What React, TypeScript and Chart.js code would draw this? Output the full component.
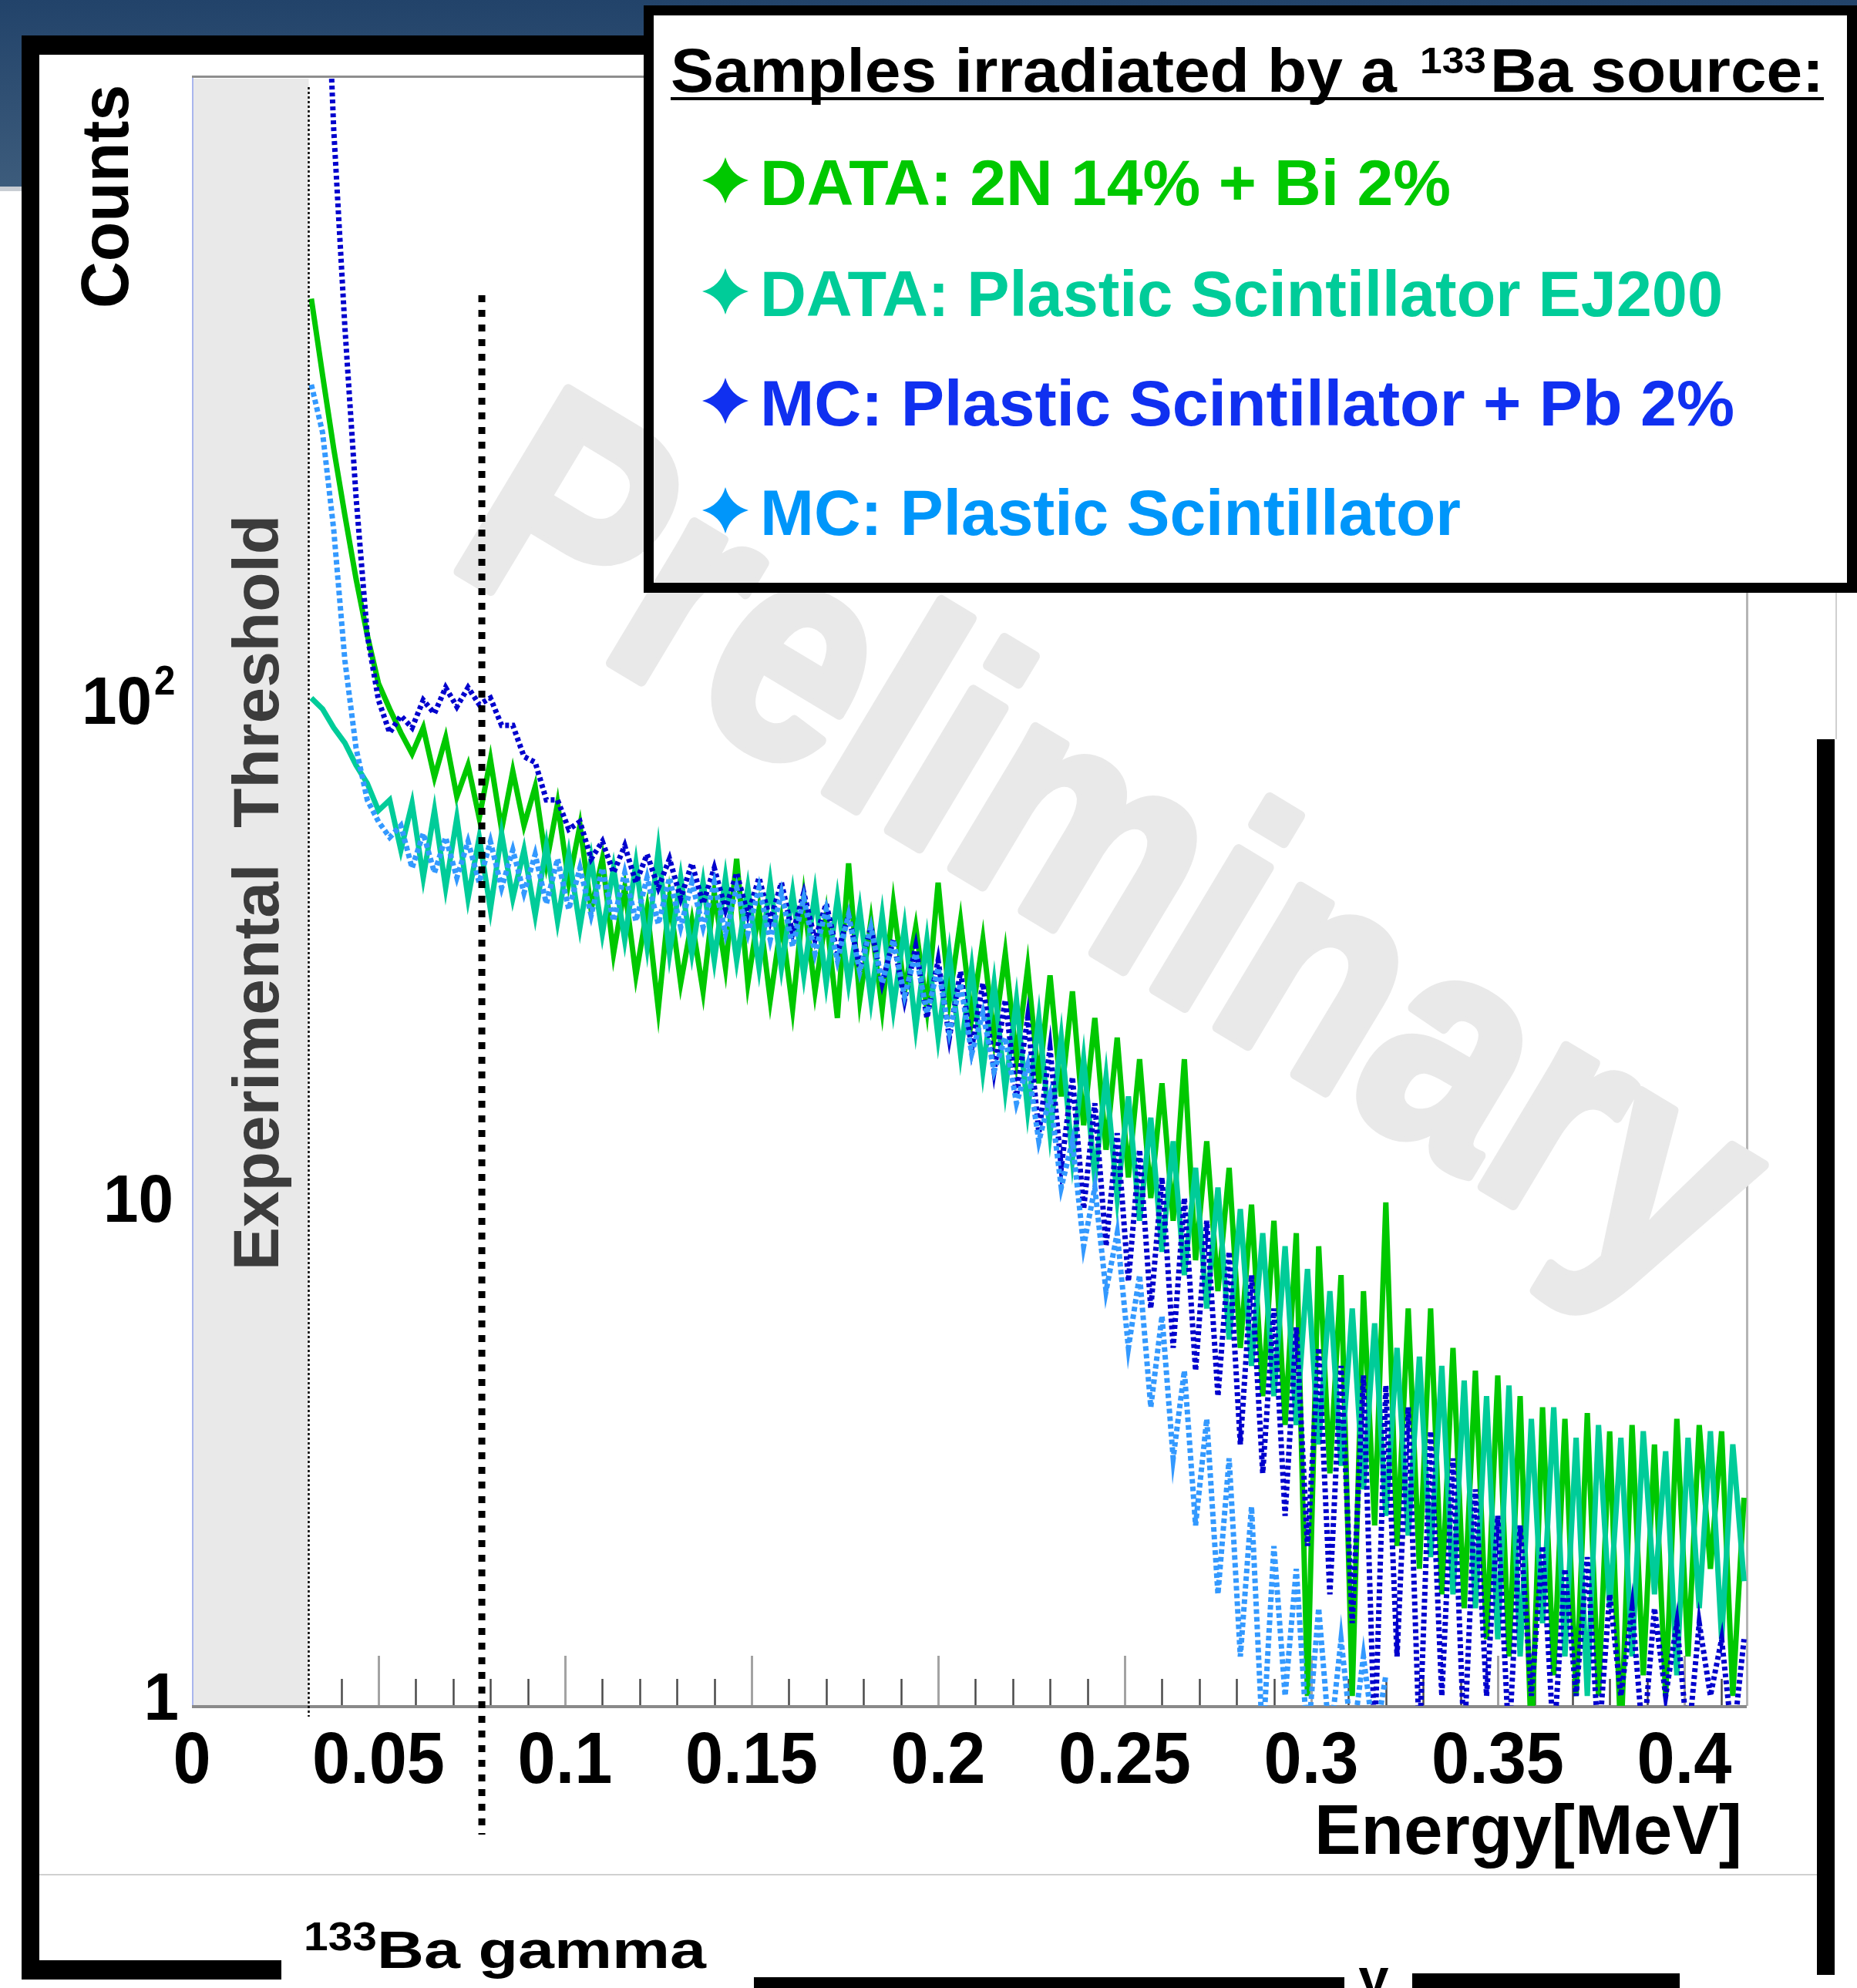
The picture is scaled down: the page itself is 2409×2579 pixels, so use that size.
import React, { useEffect, useRef } from 'react';
import { Chart, registerables } from 'chart.js';

Chart.register(...registerables);

const W = 2409;
const H = 2579;
const FONT = '"Liberation Sans", Arial, Helvetica, sans-serif';

// Energy binning of the histograms (MeV)
const E_START = 0.032;
const E_STEP = 0.003;

// DATA: 2N 14% + Bi 2%
const DATA_2N_BI = [
  640, 450, 320, 235, 175, 135, 108, 96, 86, 78,
  88, 70, 84, 64, 74, 58, 76, 55, 72, 56,
  67, 47, 62, 43, 56, 38, 48, 31, 42, 28,
  38, 24, 40, 27, 36, 26, 41, 29, 48, 27,
  38, 25, 36, 24, 40, 26, 37, 23, 47, 25,
  36, 24, 39, 26, 35, 24, 43, 25, 36, 23,
  33, 21, 31, 19, 29, 17, 28, 16, 26, 14,
  23, 12.5, 21, 11, 19, 10, 17, 9, 19, 7.5,
  13, 6.5, 11.5, 5, 9.7, 4, 9, 3.5, 8.5, 1,
  8, 2.8, 7, 1, 6.5, 2.2, 9.8, 2, 6, 1.8,
  6, 1.6, 5, 1.5, 4.5, 1.3, 4.4, 1.2, 4, 0.8,
  3.8, 1.1, 3.6, 1, 3.7, 1, 3.4, 0.8, 3.5, 1.1,
  3.2, 1, 3.6, 1.2, 3.5, 1.8, 3.4, 1, 2.5,
];

// DATA: Plastic Scintillator EJ200
const DATA_EJ200 = [
  101, 96, 88, 82, 74, 68, 60, 63, 50, 62,
  44, 60, 42, 58, 40, 53, 38, 54, 40, 50,
  37, 51, 36, 49, 35, 48, 34, 46, 33, 47,
  32, 50, 31, 44, 31, 43, 30, 44, 30, 42,
  29, 43, 29, 41, 28, 41, 27, 40, 27, 38,
  25, 37, 24, 35, 22, 33, 21, 31, 19.5, 29,
  18, 27, 16.5, 25, 15, 23, 13.5, 21, 12, 19,
  11, 17.5, 10, 16, 9, 14.5, 7.8, 13, 7, 11.5,
  6, 10.5, 5.2, 9.5, 4.6, 8.5, 4, 8, 3.5, 7.2,
  3.2, 6.5, 2.9, 6, 2.6, 5.6, 2.3, 5, 2.1, 4.8,
  1.9, 4.6, 1.6, 4.3, 1.5, 4, 1.3, 4.2, 1.2, 3.6,
  1.4, 3.8, 1.2, 3.3, 1, 3.5, 1.5, 3.3, 1.2, 3.4,
  1.6, 3.1, 1.1, 3.3, 1.5, 3.4, 1.3, 3.2, 1.7,
];

// MC: Plastic Scintillator + Pb 2%
const MC_PB = [
  5000, 5000, 1400, 560, 255, 135, 100, 86, 93, 88,
  100, 94, 106, 97, 106, 98, 101, 89, 89, 77,
  75, 63, 63, 55, 57, 48, 52, 45, 51, 43,
  49, 42, 48, 40, 47, 39, 46, 38, 45, 37,
  44, 36, 43, 34, 41, 33, 39, 31, 37, 29,
  35, 27, 33, 25, 32, 23, 30, 21, 28.5, 20,
  27, 18, 25, 16, 23, 13.5, 20, 11.5, 17.5, 9.5,
  15.5, 8, 13.5, 6.8, 12.5, 6, 11, 5, 10, 4.5,
  9, 4, 7.8, 3.2, 7, 2.8, 6, 2.3, 5.5, 2,
  5, 1.6, 4.6, 1.4, 4.4, 0.8, 4.2, 1.2, 3.8, 0.8,
  3.4, 1, 3, 0.8, 2.6, 1, 2.3, 0.8, 2.2, 1,
  2, 0.8, 1.8, 1, 1.9, 0.8, 1.6, 1, 1.5, 0.8,
  1.5, 1, 1.4, 0.8, 1.4, 1, 1.3, 0.8, 1.3,
];

// MC: Plastic Scintillator
const MC_PLASTIC = [
  430, 345, 220, 120, 80, 63, 57, 53, 56, 46,
  54, 45, 53, 44, 52, 43, 52, 42, 50, 41,
  49, 39, 48, 38, 46, 37, 46, 36, 45, 36,
  44, 35.5, 44, 35, 43, 35, 43, 34, 42, 34,
  42, 33, 41, 32, 40, 31, 38, 30, 37, 28.5,
  35, 27, 33, 25.5, 31, 23.5, 29, 21.5, 27, 19.5,
  23.5, 18, 21, 15.5, 18.5, 13, 16, 10.5, 13, 8,
  10.5, 6.5, 8.5, 5, 7, 3.8, 5.8, 3, 4.5, 2.2,
  3.6, 1.6, 3, 1.2, 2.4, 0.8, 2, 1, 1.8, 0.8,
  1.5, 0.8, 1.3, 0.8, 1.2, 0.8, 1.1,
];

const X_TICKS = [0, 0.05, 0.1, 0.15, 0.2, 0.25, 0.3, 0.35, 0.4];
const X_TICK_LABELS = ['0', '0.05', '0.1', '0.15', '0.2', '0.25', '0.3', '0.35', '0.4'];
const Y_TICKS = [1, 10, 100];
const Y_TICK_LABELS = [['1', ''], ['10', ''], ['10', '2']];
const THRESHOLD_E = 0.0313;
const BA_LINE_E = 0.0777;

const SERIES = [
  { label: 'DATA: 2N 14% + Bi 2%', values: DATA_2N_BI, line: 'rgb(0,200,0)', text: 'rgb(0,200,0)', dash: [] as number[], width: 7, order: 4 },
  { label: 'DATA: Plastic Scintillator EJ200', values: DATA_EJ200, line: 'rgb(0,204,153)', text: 'rgb(0,204,153)', dash: [] as number[], width: 7, order: 3 },
  { label: 'MC: Plastic Scintillator + Pb 2%', values: MC_PB, line: 'rgb(0,0,205)', text: 'rgb(16,48,240)', dash: [5, 4], width: 7, order: 2 },
  { label: 'MC: Plastic Scintillator', values: MC_PLASTIC, line: 'rgb(51,153,255)', text: 'rgb(0,150,250)', dash: [6, 4], width: 7, order: 1 },
];

function drawText(ctx: any, s: string, x: number, y: number, px: number, color: string, align: string = 'left', opt: any = {}) {
  ctx.save();
  ctx.font = `bold ${px}px ${FONT}`;
  ctx.fillStyle = color;
  ctx.textBaseline = 'alphabetic';
  ctx.textAlign = align;
  const w = ctx.measureText(s).width;
  ctx.translate(x, y);
  if (opt.angle) ctx.rotate(opt.angle);
  let sx = opt.sx || 1;
  if (opt.w) sx = opt.w / w;
  ctx.scale(sx, 1);
  ctx.fillText(s, 0, 0);
  ctx.restore();
}

function star(ctx: any, cx: number, cy: number, r: number, color: string) {
  const k = 0.22;
  ctx.save();
  ctx.fillStyle = color;
  ctx.beginPath();
  ctx.moveTo(cx, cy - r);
  ctx.quadraticCurveTo(cx + r * k, cy - r * k, cx + r, cy);
  ctx.quadraticCurveTo(cx + r * k, cy + r * k, cx, cy + r);
  ctx.quadraticCurveTo(cx - r * k, cy + r * k, cx - r, cy);
  ctx.quadraticCurveTo(cx - r * k, cy - r * k, cx, cy - r);
  ctx.closePath();
  ctx.fill();
  ctx.restore();
}

const decor = {
  id: 'decor',
  beforeDraw(chart: any) {
    const ctx = chart.ctx;
    ctx.save();
    ctx.fillStyle = '#ffffff';
    ctx.fillRect(0, 0, W, H);
    const g = ctx.createLinearGradient(0, 0, 0, 245);
    g.addColorStop(0, '#22436a');
    g.addColorStop(1, '#3d5c7c');
    ctx.fillStyle = g;
    ctx.fillRect(0, 0, W, 46);
    ctx.fillRect(0, 0, 28, 242);
    ctx.fillStyle = '#c9cdd3';
    ctx.fillRect(0, 242, 28, 6);
    ctx.fillStyle = '#000';
    ctx.fillRect(28, 46, 808, 25);
    ctx.fillRect(28, 46, 23, 2522);
    ctx.fillRect(28, 2543, 337, 25);
    ctx.fillRect(978, 2565, 766, 14);
    ctx.fillRect(1832, 2560, 347, 19);
    ctx.fillRect(2357, 959, 23, 1603);
    ctx.fillStyle = '#d0d0d0';
    ctx.fillRect(51, 2431, 2306, 2);
    ctx.fillRect(2381, 769, 2, 190);
    ctx.restore();
    drawText(ctx, '\u03b3', 1782, 2590, 70, '#000', 'center');
  },
  beforeDatasetsDraw(chart: any) {
    const ctx = chart.ctx;
    const { left, right, top, bottom } = chart.chartArea;
    const xs = chart.scales.x;
    ctx.save();
    for (let k = 1; k <= 41; k++) {
      const px = Math.round(xs.getPixelForValue(k / 100)) + 0.5;
      const major = k % 5 === 0;
      ctx.strokeStyle = major ? '#a3a3a3' : '#4a4a4a';
      ctx.lineWidth = major ? 3 : 2.5;
      ctx.beginPath();
      ctx.moveTo(px, bottom);
      ctx.lineTo(px, bottom - (major ? 65 : 35));
      ctx.stroke();
    }
    const thx = xs.getPixelForValue(THRESHOLD_E);
    ctx.fillStyle = '#e9e9e9';
    ctx.fillRect(left, top + 3, thx - left, bottom - top - 3);
    ctx.fillStyle = '#a9b6ee';
    ctx.fillRect(left, top, 2, bottom - top);
    ctx.fillStyle = '#8e8e8e';
    ctx.fillRect(left, top - 1, right - left, 3);
    ctx.fillStyle = '#b5b5b5';
    ctx.fillRect(right - 1, top, 3, bottom - top);
    ctx.fillStyle = '#8a8a8a';
    ctx.fillRect(left, bottom - 1, right - left, 4);
    ctx.fillStyle = '#ffffff';
    ctx.fillRect(835, 7, W - 835, 762);
    // watermark
    ctx.save();
    ctx.translate(575, 729);
    ctx.rotate((31 * Math.PI) / 180);
    ctx.scale(0.86, 1);
    ctx.font = `bold 400px ${FONT}`;
    ctx.fillStyle = '#e9e9e9';
    ctx.strokeStyle = '#e9e9e9';
    ctx.lineWidth = 14;
    ctx.lineJoin = 'round';
    ctx.textBaseline = 'alphabetic';
    ctx.strokeText('Preliminary', 0, 0);
    ctx.fillText('Preliminary', 0, 0);
    ctx.restore();
    ctx.restore();
  },
  afterDatasetsDraw(chart: any) {
    const ctx = chart.ctx;
    const { top, bottom } = chart.chartArea;
    const xs = chart.scales.x;
    const ys = chart.scales.y;
    ctx.save();
    const thx = Math.round(xs.getPixelForValue(THRESHOLD_E)) + 0.5;
    ctx.strokeStyle = '#000';
    ctx.lineWidth = 2.5;
    ctx.setLineDash([3, 3]);
    ctx.beginPath();
    ctx.moveTo(thx, top + 14);
    ctx.lineTo(thx, bottom + 14);
    ctx.stroke();
    const bx = xs.getPixelForValue(BA_LINE_E);
    ctx.lineWidth = 9;
    ctx.setLineDash([9, 10]);
    ctx.beginPath();
    ctx.moveTo(bx, 383);
    ctx.lineTo(bx, 2380);
    ctx.stroke();
    ctx.setLineDash([]);
    ctx.restore();

    X_TICKS.forEach((v, i) => {
      drawText(ctx, X_TICK_LABELS[i], xs.getPixelForValue(v), 2313, 95, '#000', 'center', { sx: 0.93 });
    });
    Y_TICKS.forEach((v, i) => {
      const py = ys.getPixelForValue(v) + 31;
      const [main, sup] = Y_TICK_LABELS[i];
      if (sup) {
        drawText(ctx, main, 197, py, 88, '#000', 'right', { sx: 0.93 });
        drawText(ctx, sup, 200, py - 38, 53, '#000', 'left', { sx: 0.93 });
      } else {
        drawText(ctx, main, main.length === 1 ? 232 : 225, py, 88, '#000', 'right', { sx: 0.93 });
      }
    });

    drawText(ctx, 'Energy[MeV]', 2260, 2405, 91, '#000', 'right', { w: 555 });
    drawText(ctx, 'Counts', 166, 255, 88, '#000', 'center', { angle: -Math.PI / 2, w: 290 });
    drawText(ctx, 'Experimental  Threshold', 361, 1158, 84, '#3c3c3c', 'center', { angle: -Math.PI / 2 });

    ctx.save();
    ctx.strokeStyle = '#000';
    ctx.lineWidth = 13;
    ctx.strokeRect(841.5, 13.5, W - 848, 749);
    ctx.restore();
    drawText(ctx, 'Samples irradiated by a', 870, 119, 80, '#000', 'left', { w: 942 });
    drawText(ctx, '133', 1842, 95, 49, '#000', 'left', { w: 86 });
    drawText(ctx, 'Ba source:', 1933, 119, 80, '#000', 'left', { w: 433 });
    ctx.fillStyle = '#000';
    ctx.fillRect(870, 126, 1496, 4);
    const baselines = [266, 410, 552, 694];
    const widths = [896, 1249, 1264, 909];
    SERIES.forEach((s, i) => {
      star(ctx, 941, baselines[i] - 32, 30, s.text);
      drawText(ctx, s.label, 986, baselines[i], 84, s.text, 'left', { w: widths[i] });
    });

    drawText(ctx, '133', 394, 2530, 51, '#000', 'left', { w: 95 });
    drawText(ctx, 'Ba gamma', 489, 2553, 68, '#000', 'left', { w: 427 });
  },
};

export default function App() {
  const ref = useRef<HTMLCanvasElement | null>(null);
  useEffect(() => {
    if (!ref.current) return;
    const chart = new Chart(ref.current, {
      type: 'line',
      data: {
        datasets: SERIES.map((s) => ({
          label: s.label,
          data: s.values.map((v, i) => ({ x: E_START + E_STEP * i, y: v })),
          borderColor: s.line,
          backgroundColor: s.line,
          borderWidth: s.width,
          borderDash: s.dash,
          borderJoinStyle: 'miter',
          pointRadius: 0,
          tension: 0,
          fill: false,
          order: s.order,
        })),
      },
      options: {
        responsive: false,
        animation: false,
        devicePixelRatio: 1,
        events: [],
        layout: { padding: { left: 249, right: 143, top: 99, bottom: 366 } },
        plugins: { legend: { display: false }, tooltip: { enabled: false } },
        scales: {
          x: { type: 'linear', min: 0, max: 0.41674, display: false },
          y: { type: 'logarithmic', min: 0.955, max: 1790, display: false },
        },
      },
      plugins: [decor],
    } as any);
    return () => chart.destroy();
  }, []);
  return (
    <div style={{ position: 'fixed', left: 0, top: 0, width: W, height: H, background: '#fff' }}>
      <canvas ref={ref} width={W} height={H} style={{ display: 'block', width: W, height: H }} />
    </div>
  );
}
